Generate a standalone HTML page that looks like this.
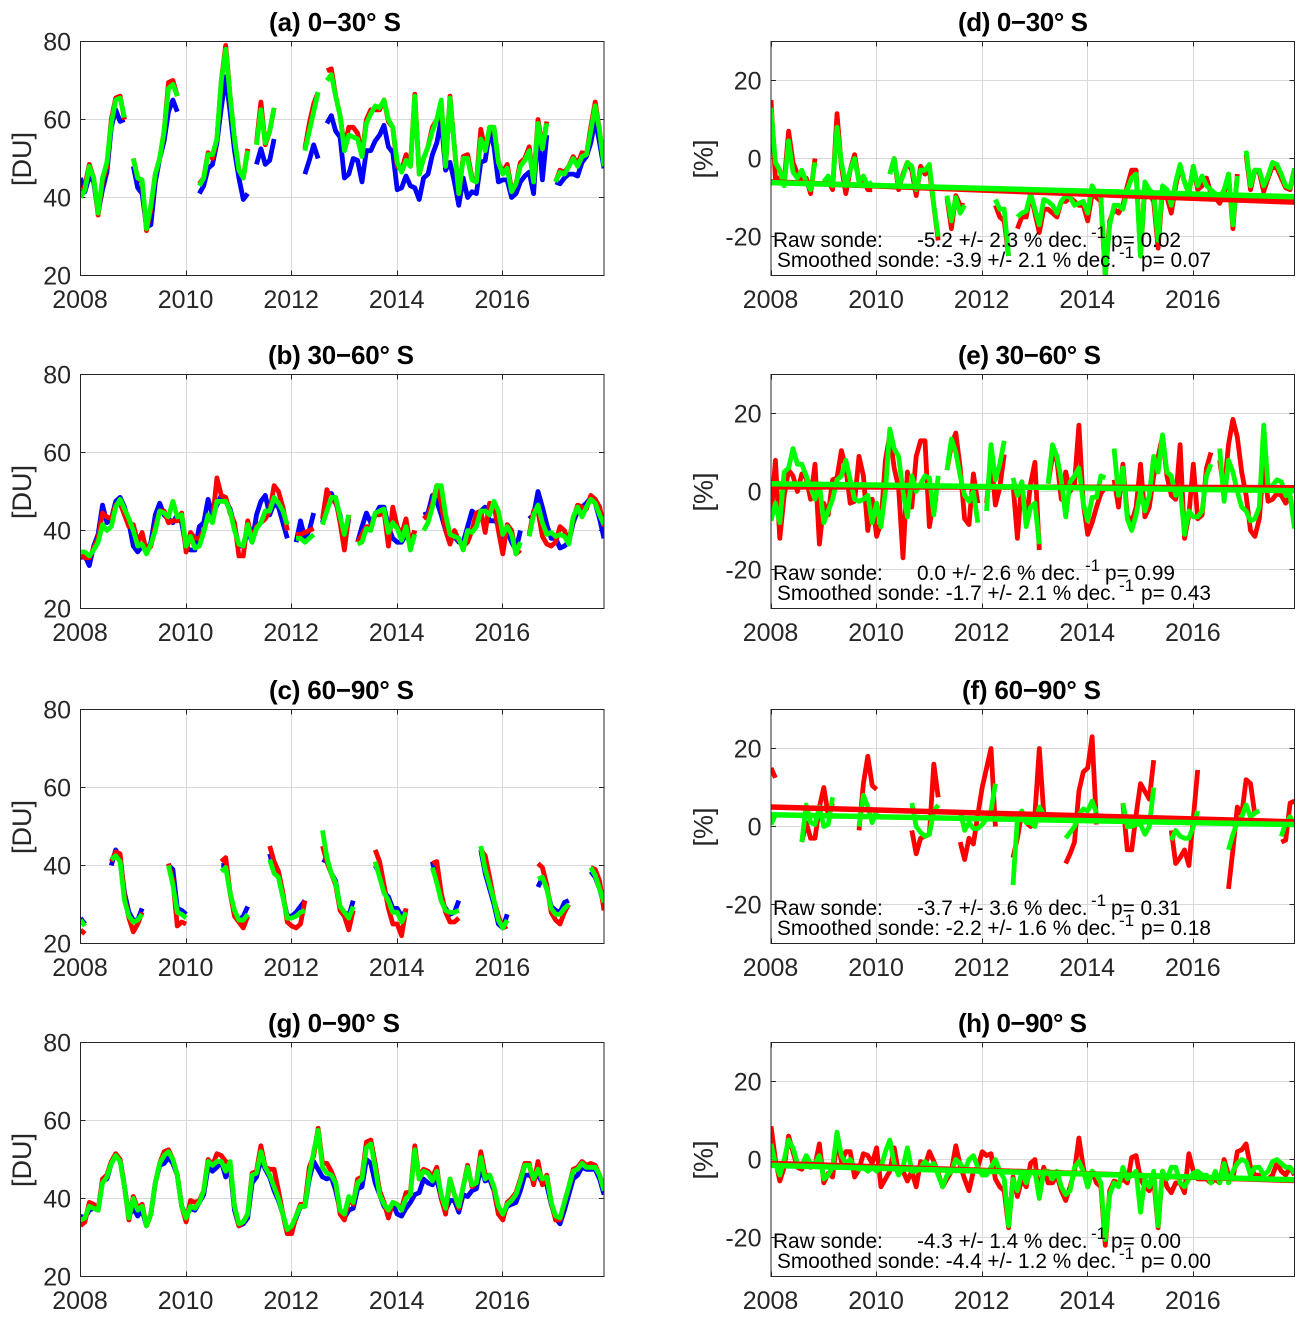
<!DOCTYPE html>
<html lang="en">
<head>
<meta charset="utf-8">
<title>Sonde and satellite ozone time series, southern latitude bands</title>
<style>
html,body{margin:0;padding:0;background:#fff;}
svg{display:block;}
text{font-family:"Liberation Sans",Arial,sans-serif;}
</style>
</head>
<body>
<svg id="figure" width="1307" height="1321" viewBox="0 0 1307 1321" xmlns="http://www.w3.org/2000/svg"></svg>
<script>
const _ = null;
const xTickYears = [2008, 2010, 2012, 2014, 2016];
const duTicks = [20, 40, 60, 80];
const pctTicks = [-20, 0, 20];

const aBlue = [45,41.5,45.5,44,36,42,46.5,58,62.5,59.5,60,_,
48,42.5,41,32.5,33,44,50,54.5,62,65,62,_,
_,_,_,41,43,47.5,48.5,54,63,71,62,52,
45,39.5,41,_,48.5,52.5,48.5,49.5,55,_,_,_,
_,_,_,46,49.5,53.5,50,_,59,61,57,55.5,
45,46,50,49.5,44,52,52,54.5,56,58.5,53,51.5,
42,42.5,45.5,43,42.5,39.5,45,46,51,54,60,47,
49,44,38,45,40,41.5,41,49,49.5,57,53,44,
44.5,44.5,40,41,44,45.5,46.5,41,58,44.5,56,_,
44,43.5,45,46,46,45.5,49,50.5,54,60,54,47.5];
const aRed = [40,43,48.5,45,35.5,44,48,60,65.5,66,60,_,
50,45,44,31.5,37,46,50,57,69.5,70,66,_,
_,_,_,43.5,45,51.5,50,55,70,79,66,55,
47,45,52.5,_,54,64.5,53.5,57,63,_,_,_,
_,_,_,52.5,59,64,67,_,72.5,73,66,61,
53,58,58,56.5,51,60,62.5,62.5,62.5,65,59.5,58,
48,47,51,48,66.5,46,50,53,58,60,64,48,
66,53,41,50.5,51,45,44,57.5,52,58,58,49,
46.5,48.5,42,43.5,49,50,53,44,60,52.5,59.5,_,
44,47,46.5,48,50.5,48.5,51.5,51,58,64.5,57,48.5];
const aGreen = [40,42,48,45,36,45,49,59,65,65.5,60.5,_,
50,45,44.5,32,38,46,50,57,68,69,66,_,
_,_,_,43,45,51,51,55,70,78,66,55,
47,45,52,_,53.5,62.5,54,57,63,_,_,_,
_,_,_,52,57,62,67,_,70,71.5,66,61,
52,56,55.5,55,50.5,59,61.5,63.5,63,65,60,58,
49,46.5,49.5,48,66,46,50,53,57,60,65,48,
65.5,53,41,50,50,44.5,44,55,52,58,58,49,
46,47.5,41.5,43.5,48,49.5,52,44,59,52.5,59,_,
44,46.5,46,48,50,48,50.5,51,57,63.5,57,48];

const bBlue = [33,33.5,31,36,39,46.5,42,43,47.5,48.5,46,42,
36,34.5,36,34.5,37,44,47,44,43,42,44,42,
35.5,35,35,41,42,48,44,46.5,49,47.5,45.5,41,
36,36,40,37,44,47.5,49,44,47,46,42,38,
_,37,42.5,38,40,44.5,_,42,47,49.5,47,44,
37,43,_,37,41,44.5,42,44,46,46,41,38,
37,37,39,37,40,_,44,44.5,49,47.5,44,40,
38,38.5,37,37,41,45,44,45,46,42.5,42.5,42,
38,40,37,35,40,_,43,44,50,46,41.5,38,
38,35.5,36,37,42,45,46,47,48.5,47,43,38];
const bRed = [34,33,33,35.5,38,44.5,43.5,43,46.5,47,44,41,
41.5,37,39.5,34.5,36,41,45,45,42,42.5,42.5,44.5,
34.5,39.5,38,38,40,43.5,42.5,53.5,49,48.5,44.5,42,
33.5,33.5,42.5,38,41,42,43,45,51.5,50,46,40,
_,39,39,39.5,40,40.5,_,43,50.5,47.5,48,42,
35,44,_,37,39,41,41,44,44,45,36,46,
41,39,43,36,40,_,43,44,47,51.5,47,40,
36.5,40,37.5,36,37,40,44.5,45,39.5,47,46.5,40,
34,41.5,40,34,35,_,39,45,45,38.5,36.5,36,
37,41,40,37,43,46.5,46,45.5,49,48,46,41];
const bGreen = [34.5,34.5,33.5,35,37,41.5,40,41,46,48,45.5,43,
40,36,36.5,34,36.5,40,45,44.5,43.5,47.5,43.5,44,
36,38.5,35.5,36,39.5,44,42,47.5,47.5,47.5,45,40,
36.5,36,41.5,37,40.5,42,45,45,48.5,47,45,41.5,
_,38,38,37,38,39,_,41.5,45,48.5,48.5,43.5,
39,44,_,36.5,37,40.5,40,44.5,45,45.5,39.5,42,
40.5,37.5,41,35,39,_,40,42,46,51.5,51.5,44,
39,38.5,38,35,40,39.5,41,45,45,44,47.5,45,
39,41,39,34,37,_,38.5,44,46.5,42,39,39.5,
38.5,39,38.5,36.5,43.5,46,43.5,46,48,47,44,41.5];

const cBlue = [26.5,25,_,_,_,_,_,40,44,42,33,28,
26,26,29,_,_,_,_,_,40,39,29,28.5,
27.5,_,_,_,_,_,_,_,40,40,33,28,
26,27,29.5,_,_,_,_,43,38.5,37,32,27,
27,28,29.5,31,_,_,_,41.5,41,38,36,29,
28,27,31,_,_,_,_,40,38,33,32,29,
29,27,28.5,_,_,_,_,_,41,36,31,29,
27.5,28,31,_,_,_,_,44,38,34,30,25,
24,27.5,_,_,_,_,_,_,34.5,37,34,29.5,
28.5,28,30.5,31,_,_,_,_,38.5,37,34,30];
const cRed = [23.5,22.5,_,_,_,_,_,41,43.5,43,32,26.5,
23,25,28,_,_,_,_,_,40.5,36,24.5,25.5,
25,_,_,_,_,_,_,_,41,42,33,27,
25.5,24,27,_,_,_,_,45,41,38.5,33,25.5,
24.5,24,25,31,_,_,_,45,41,38,35,28.5,
27,23.5,28.5,_,_,_,_,44,41,35,29,25,
25,22,29,_,_,_,_,_,40.5,41,33,28,
25.5,25.5,26.5,_,_,_,_,44,42.5,37,31,27,
24,24.5,_,_,_,_,_,_,40.5,39.5,35,28,
26,25,28,30,_,_,_,_,39.5,39,36,28.5];
const cGreen = [26,24.5,_,_,_,_,_,41.5,42.5,41,31,27,
25.5,26,27.5,_,_,_,_,_,40,35,28,27.5,
26.5,_,_,_,_,_,_,_,38.5,39.5,33,28.5,
26,26,27.5,_,_,_,_,41.5,38,37,32,26.5,
26.5,27,28,28.5,_,_,_,49,42,38,35.5,29.5,
28,26.5,29.5,_,_,_,_,41,37,33,31,28,
28,25.5,28,_,_,_,_,_,39.5,35.5,31,28.5,
28,28,28.5,_,_,_,_,45,39,35,31,26,
24,26,_,_,_,_,_,_,36.5,37,34,29,
27.5,27.5,29,30,_,_,_,_,39.5,37.5,34,30.5];

const gBlue = [35.5,35,37,37.5,37,44.5,45,49,51,50,43,35.5,
37.5,35.5,37,33,36,44,48.5,49,50.5,49,46,38,
35.5,37.5,37,39,41,48,47,48,49.5,45.5,48,37,
33,33.5,35,44,45.5,50,47.5,45.5,42,39.5,36,31,
32,35,38,38,45,49.5,47.5,45.5,45,45.5,42,37,
35,37,37.5,42.5,43,50,49,44,41,38,36.5,38.5,
36,35.5,37.5,39,41,41.5,45,44,43.5,45,40,37,
39.5,39.5,36.5,41,40.5,42,42.5,48,44.5,45,42,36,
35.5,38,38.5,39,42,46,46,45,46,44,43.5,38.5,
35,33.5,37,41,45,46,48,47.5,47.5,47.5,45,41];
const gRed = [33,34,39,38.5,37,45,46,49.5,51.5,50,43,34.5,
40.5,37.5,38.5,33,36,44,49,52,52.5,50,46,38,
34,39.5,39,39.5,42,50,48.5,51.5,51,49.5,49,38,
33,34,36,46.5,47,53.5,48,47.5,47.5,42,36,31,
31,35.5,38.5,38.5,48,51,58,49,49,47,44,36,
34.5,40,38.5,45,45.5,54.5,55,49,42,39,35,39,
38.5,37.5,41.5,41.5,53.5,45,47.5,47,45.5,48,40,36,
45,41,37.5,43,48.5,43,44,52,46,46,42.5,36,
34.5,39,40,41.5,45,49,49,43.5,49.5,43.5,46,39,
34.5,34.5,39,43,47.5,48,49.5,48.5,49,48.5,46,42.5];
const gGreen = [34.5,35,38,37.5,37,44,45.5,49,51,49.5,43,35,
40,37,38,33,36,44,49,51,52,50,46,38,
35,38,37.5,39,42,49.5,48.5,49.5,49.5,47,49.5,38,
33.5,34,36,46,46.5,52,48,46,43,40,36,32,
33,35.5,38,38,46,52,57.5,48,46.5,46,44,37,
36,40.5,39,44,45,53,54,48,41,38.5,37,39,
38.5,37,40,41,52.5,45,47,46.5,44.5,47,41,37.5,
45,41,38,43,48,43.5,44,50.5,45,46,43,38,
36,38.5,39.5,41,44.5,48.5,48.5,45,47.5,45,45.5,39,
35.5,35,39,43,47,47.5,49,48,48,48,46,42];

const dRaw = [15,-5,-5,-6,7,-1,-4,-6,-5,-9,0,_,
-6,-5.5,-8,11.5,-2,-9,-3,1,-6,-5,-8,-8,
_,_,_,-4,0,-8,-4,-1,-3,-9.5,-2,-4,
-3,-12,-21,_,-10,-18,-9.5,-12,-12,_,_,_,
_,_,_,-12,-15,-16,-25,_,-18,-15,-15,-9,
-14,-19,-13,-13,-14,-15,-11,-11,-10,-11,-12,-12,
-16,-9,-10,-11,-30,-16,-13,-14,-12,-7,-3,-3,
-25,-7,-9,-11,-23,-8,-10,-14,-7,-2,-6,-9,
-2,-8,-7,-5,-9,-10,-11.5,-9,-4,-18,-4,_,
1,-8,-3,-3.5,-8.5,-5,-2,-2.5,-5,-7.5,-8,-2.5];
const dSmooth = [13,-1,-3,-7,4.5,-3.5,-5,-3,-6,-8,-1,_,
-6,-4.5,-7,8,-1,-7,-3,0,-6,-4.5,-7,-6,
_,_,_,-4,0,-7,-4.5,-1,-2,-8,-3,-3,
-1.5,-12,-20,_,-9.5,-16,-10,-14,-12,_,_,_,
_,_,_,-10.5,-13,-13,-25,_,-15,-14,-13.5,-9,
-13,-17,-10.5,-11,-12,-14,-11,-9.5,-10,-12,-11.5,-11,
-14,-7,-9,-10,-30,-17,-12,-12,-13,-8,-5,-4,
-25,-6,-8,-9,-21,-7,-8,-12,-6,-1.5,-6,-9,
-2,-7,-4.5,-7,-8,-9,-10,-8,-4,-17,-4.5,_,
2,-7,-3,-3,-7,-4.5,-1,-1.5,-4,-7,-7.5,-2.5];
const dTrendRaw = [-6, -11.2];
const dTrendSmooth = [-6.2, -9.8];

const eRaw = [-7,8,-12,-1,5.5,4,0,4.5,3.5,-2,7,-13.5,
-3,-6,3,3.5,10.5,6,-3,-2.5,9,4,-10,-2,
-11.5,-8,8,14.5,6,1,-17,5,-4,9,13,13,
-9,-2,-2,_,5.5,12,15,6,-7,-8.5,4.5,-3,
_,-3,9,-3.5,1,9.5,_,2,-12,2.5,-8,2,
7.5,-15,_,2,9,8,-2,5,0,2,17,-3,
-11,-8,-4,-0.5,1,_,3,-4,7,-6,-8,-4,
7,-6.5,-4,4,9,14,4,-1,-2,12,-12,-6,
7,-7,-6,6,10,_,8,0,12,18.5,14,5,
-1,-10,-11.5,-7,7,-2.5,-2,-0.5,-1,-3,-1,-9];
const eSmooth = [-7.5,-3,-8,5,6,11,7,7,4,1,-2,2,
-8,-5,-2,3,4,8,3,-2,-2.5,-2,-1,-8,
-3,-9,0,16,11,9,0,-6.5,4,0,2,4,
3.5,-6,4,_,5.5,13.5,10,4,-1,-2.5,0,-8,
_,-5,12,3,7,13,_,3.5,-1,2.5,-9,-4,
-3,-13.5,_,2,12,9,3,-6.5,2.5,4,6,-3,
-7.5,-1.5,-1.5,4,3.5,_,11,-1,6,-7,-10,-6,
0,-5,-1,9,5,14.5,5,4,-1,1,-11,-5,
-6.5,-6.5,-5,4,7,_,11,-2.5,8,5,0,-4,
-5,-7.5,-7,-4,17,1,1.5,3,2.5,-1,-1,-9.5];
const eTrendRaw = [1.2, 1.0];
const eTrendSmooth = [2, 0.2];

const fRaw = [15,12.5,_,_,_,_,_,-4,1,-3,-3,5,
10,3,6,_,_,_,_,_,-1,11,18,10.5,
9.5,_,_,_,_,_,_,_,-1,-7,-3,-2.5,
-2,16,7.5,_,_,_,_,-4,-8.5,-3,-4.5,3,
10,15,20,0,_,_,_,-8,-3,3.5,1,0,
3,20,3.5,_,_,_,_,-9.5,-7,-4,9,14,
15,23,0.5,_,_,_,_,_,6,-6,-6,3,
11,9,7,17,_,_,_,-1,-9.5,-8,-6,-10,
2,14.5,_,_,_,_,_,_,-16,-6,5,3,
12,11,3,_,_,_,_,_,-4,-3.5,6,6.5];
const fSmooth = [0.5,3,_,_,_,_,_,-4,5.5,1,0.5,5,
0,0.5,7.5,_,_,_,_,_,0,8,5,1,
4,_,_,_,_,_,_,_,6,0,-1.5,-2.5,
-2,4,5.5,_,_,_,_,4,-1,1,-0.5,-0.5,
0.5,2,4,11,_,_,_,-15,2,4,1,1,
0,5,3,_,_,_,_,-3,-1.5,0,3,4.5,
4,6.5,3.5,_,_,_,_,_,6,0,0,0.5,
0.5,-2,0,10,_,_,_,-3.5,-1,-2.5,-3,-3,
0,4,_,_,_,_,_,_,-6,-2,1,2.5,
5.5,2.5,3.5,4,_,_,_,_,-2.5,1,2.5,0];
const fTrendRaw = [5, 1.2];
const fTrendSmooth = [3, 0.5];

const hRaw = [8.5,0,-5.5,-2,6,2,-2,-2.5,0,-2,-1.5,4,
-6,-3.5,-4.5,5,-0.5,2,2,-4.5,-2.5,1.5,1,-1,
3,-7,-5,-3,3,-3.5,-3,-5.5,-3,-7,-0.5,-1.5,
2,-0.5,-3.5,-7,-5,-3,3.5,-1.5,-5,-8,-3,-2,
2,1,1.5,-5,-7,-8,-17.5,-4.5,-9.5,-5,-7,-1,
0,-9.5,-2,-6,-6,-4,-8,-10.5,-7,-3,5.5,-2,
-7,-3,-6,-7,-22,-8,-5.5,-6,-5,-6,0.5,1,
-5,-7,-8,-5,-17.5,-3,-7,-8.5,-6,-6,-8.5,1.5,
-3,-5,-5,-5,-6,-5,-6,0,-4,-5,2,2.5,
4,-2,-4,-4,-5,-5,-4,-1,-3,-4,-2,-4];
const hSmooth = [4,-1,-4,0,5,3,-1,-1.5,1,-1,-1,1,
-5,-4,-2,7,1,-1,0,-2,-2.5,-2,-3,-2,
-3,-2,2,5,-1,-4,-2,3,-3,-3,-2,-0.5,
-2,-1,-4,-7,-4,-3,0,-1,-3,0,1,-2,
-4,-4,-2,0,-3,-5,-17,-5,-8,-3,-6,-3,
-3,-10,-3,-3,-5,-3,-7,-9,-8,-2,-0.5,-3,
-7,-3,-4,-6,-20.5,-9,-6,-7,-2,-5,-4,-3,
-13.5,-5,-7,-3,-17,-3,-5,-2,-2,-6,-7,-5,
-3.5,-3,-4,-4,-6,-3,-6,-1,-6,-3,-1,0,
-0.5,-4,-2,-2,-4,-3,-0.5,0,-1,-2,-2,-3.5];
const hTrendRaw = [-1, -5.4];
const hTrendSmooth = [-1.5, -5.2];

const BLUE = '#0000ff', RED = '#ff0000', GREEN = '#00ff00';
const NS = 'http://www.w3.org/2000/svg';
const svg = document.getElementById('figure');

function el(tag, attrs, parent) {
  const node = document.createElementNS(NS, tag);
  for (const k in attrs) node.setAttribute(k, attrs[k]);
  parent.appendChild(node);
  return node;
}

const PLOT_W = 523.5, PLOT_H = 234;
const X_SPAN = 119 / 12;

function axisFns(left, top, yMin, yMax) {
  return {
    xYear: y => left + (y - 2008) / X_SPAN * PLOT_W,
    xMonth: i => left + (i / 12) / X_SPAN * PLOT_W,
    y: v => top + (yMax - v) / (yMax - yMin) * PLOT_H
  };
}

function seriesPath(values, ax) {
  let d = '', pen = false;
  values.forEach((v, i) => {
    if (v === null || v === undefined) { pen = false; return; }
    d += (pen ? 'L' : 'M') + ax.xMonth(i).toFixed(1) + ' ' + ax.y(v).toFixed(1);
    pen = true;
  });
  return d;
}

function drawAxesFrame(g, left, top, ax, yTicks, yLabel, yLabelX) {
  const grid = el('g', {stroke: '#d9d9d9', 'stroke-width': 1, fill: 'none'}, g);
  
  
  xTickYears.slice(1).forEach(yr => {
    const px = Math.floor(ax.xYear(yr)) + 0.5;
    el('line', {x1: px, x2: px, y1: top, y2: top + PLOT_H}, grid);
  });
  yTicks.forEach(v => {
    const py = Math.floor(ax.y(v)) + 0.5;
    el('line', {x1: left, x2: left + PLOT_W, y1: py, y2: py}, grid);
  });

  const ticks = el('g', {stroke: '#262626', 'stroke-width': 1, fill: 'none'}, g);
  
  
  xTickYears.forEach(yr => {
    const px = Math.floor(ax.xYear(yr)) + 0.5;
    el('line', {x1: px, x2: px, y1: top, y2: top + 5}, ticks);
    el('line', {x1: px, x2: px, y1: top + PLOT_H, y2: top + PLOT_H - 5}, ticks);
  });
  yTicks.forEach(v => {
    const py = Math.floor(ax.y(v)) + 0.5;
    el('line', {x1: left, x2: left + 5, y1: py, y2: py}, ticks);
    el('line', {x1: left + PLOT_W, x2: left + PLOT_W - 5, y1: py, y2: py}, ticks);
  });

  xTickYears.forEach(yr => {
    const t = el('text', {x: ax.xYear(yr) - 0.5, y: top + PLOT_H + 32.5, 'text-anchor': 'middle', 'font-size': 25, fill: '#262626'}, g);
    
    
    t.textContent = String(yr);
  });
  yTicks.forEach(v => {
    const t = el('text', {x: left - 9.5, y: ax.y(v) + 9, 'text-anchor': 'end', 'font-size': 25, fill: '#262626'}, g);
    
    
    t.textContent = String(v);
  });

  const yt = el('text', {
    transform: 'translate(' + yLabelX + ',' + (top + PLOT_H / 2 + 0.5) + ') rotate(-90)',
    'text-anchor': 'middle', 'font-size': 27, fill: '#262626'
  }, g);
  
  
  yt.textContent = yLabel;
}

function drawBox(g, left, top) {
  const box = el('rect', {x: left, y: top, width: PLOT_W, height: PLOT_H, fill: 'none', stroke: '#262626', 'stroke-width': 1}, g);
  
  
}

function drawTitle(g, x, width, top, txt) {
  const t = el('text', {x: x, y: top - 10.5, 'text-anchor': 'start', textLength: width, lengthAdjust: 'spacing', 'font-size': 26, 'font-weight': 'bold', fill: '#000'}, g);
  
  
  t.textContent = txt;
}

function makeClip(id, left, top) {
  const cp = el('clipPath', {id: id}, svg);
  el('rect', {x: left, y: top, width: PLOT_W, height: PLOT_H}, cp);
}

function drawDuPanel(id, left, top, title, titleX, titleW, blue, red, green) {
  const g = el('g', {}, svg);
  
  
  const ax = axisFns(left, top, 20, 80);
  drawTitle(g, titleX, titleW, top, title);
  drawAxesFrame(g, left, top, ax, duTicks, '[DU]', 31);
  makeClip('clip-' + id, left, top);
  const lines = el('g', {'clip-path': 'url(#clip-' + id + ')', fill: 'none', 'stroke-width': 4.8, 'stroke-linejoin': 'round'}, g);
  
  
  const pb = el('path', {d: seriesPath(blue, ax), stroke: BLUE}, lines);
  
  
  const pr = el('path', {d: seriesPath(red, ax), stroke: RED}, lines);
  
  
  const pg = el('path', {d: seriesPath(green, ax), stroke: GREEN}, lines);
  
  
  drawBox(g, left, top);
}

function drawPctPanel(id, left, top, title, titleX, titleW, raw, smooth, trendRaw, trendSmooth, rawStat, pRaw, rawShift, smoothStat, pSmooth) {
  const g = el('g', {}, svg);
  
  
  const ax = axisFns(left, top, -30, 30);
  drawTitle(g, titleX, titleW, top, title);
  drawAxesFrame(g, left, top, ax, pctTicks, '[%]', 712.5);
  makeClip('clip-' + id, left, top);
  const lines = el('g', {'clip-path': 'url(#clip-' + id + ')', fill: 'none', 'stroke-width': 4.8, 'stroke-linejoin': 'round'}, g);
  
  
  const pr = el('path', {d: seriesPath(raw, ax), stroke: RED}, lines);
  
  
  const ps = el('path', {d: seriesPath(smooth, ax), stroke: GREEN}, lines);
  
  
  const tr = el('line', {x1: ax.xMonth(0), x2: ax.xMonth(119), y1: ax.y(trendRaw[0]), y2: ax.y(trendRaw[1]), stroke: RED, 'stroke-width': 5.5}, lines);
  
  
  const ts = el('line', {x1: ax.xMonth(0), x2: ax.xMonth(119), y1: ax.y(trendSmooth[0]), y2: ax.y(trendSmooth[1]), stroke: GREEN, 'stroke-width': 5.5}, lines);
  
  
  drawBox(g, left, top);

  const y1 = top + 205.5, y2 = top + 225.5;
  const note = el('g', {'font-size': 20.8, fill: '#000'}, g);
  
  
  el('text', {x: left + 2, y: y1}, note).textContent = 'Raw sonde:';
  el('text', {x: left + 146, y: y1}, note).textContent = rawStat;
  el('text', {x: left + 320 + rawShift, y: y1 - 9, 'font-size': 17}, note).textContent = '-1';
  el('text', {x: left + 340 + rawShift, y: y1}, note).textContent = pRaw;
  el('text', {x: left + 6, y: y2}, note).textContent = smoothStat;
  el('text', {x: left + 348, y: y2 - 9, 'font-size': 17}, note).textContent = '-1';
  el('text', {x: left + 370, y: y2}, note).textContent = pSmooth;
}

const TOPS = [41.5, 374.5, 709.5, 1042.5];
const LEFT_A = 80.5, LEFT_B = 771;

drawDuPanel('a', LEFT_A, TOPS[0], '(a) 0\u221230\u00b0 S', 269, 132, aBlue, aRed, aGreen);
drawDuPanel('b', LEFT_A, TOPS[1], '(b) 30\u221260\u00b0 S', 268, 146, bBlue, bRed, bGreen);
drawDuPanel('c', LEFT_A, TOPS[2], '(c) 60\u221290\u00b0 S', 269, 145, cBlue, cRed, cGreen);
drawDuPanel('g', LEFT_A, TOPS[3], '(g) 0\u221290\u00b0 S', 268, 132, gBlue, gRed, gGreen);

drawPctPanel('d', LEFT_B, TOPS[0], '(d) 0\u221230\u00b0 S', 958, 130, dRaw, dSmooth, dTrendRaw, dTrendSmooth,
  '-5.2 +/- 2.3 % dec.', 'p= 0.02', 0, 'Smoothed sonde: -3.9 +/- 2.1 % dec.', 'p= 0.07');
drawPctPanel('e', LEFT_B, TOPS[1], '(e) 30\u221260\u00b0 S', 958, 143, eRaw, eSmooth, eTrendRaw, eTrendSmooth,
  '0.0 +/- 2.6 % dec.', 'p= 0.99', -6, 'Smoothed sonde: -1.7 +/- 2.1 % dec.', 'p= 0.43');
drawPctPanel('f', LEFT_B, TOPS[2], '(f) 60\u221290\u00b0 S', 962, 139, fRaw, fSmooth, fTrendRaw, fTrendSmooth,
  '-3.7 +/- 3.6 % dec.', 'p= 0.31', 0, 'Smoothed sonde: -2.2 +/- 1.6 % dec.', 'p= 0.18');
drawPctPanel('h', LEFT_B, TOPS[3], '(h) 0\u221290\u00b0 S', 958, 129, hRaw, hSmooth, hTrendRaw, hTrendSmooth,
  '-4.3 +/- 1.4 % dec.', 'p= 0.00', 0, 'Smoothed sonde: -4.4 +/- 1.2 % dec.', 'p= 0.00');
</script>
</body>
</html>
